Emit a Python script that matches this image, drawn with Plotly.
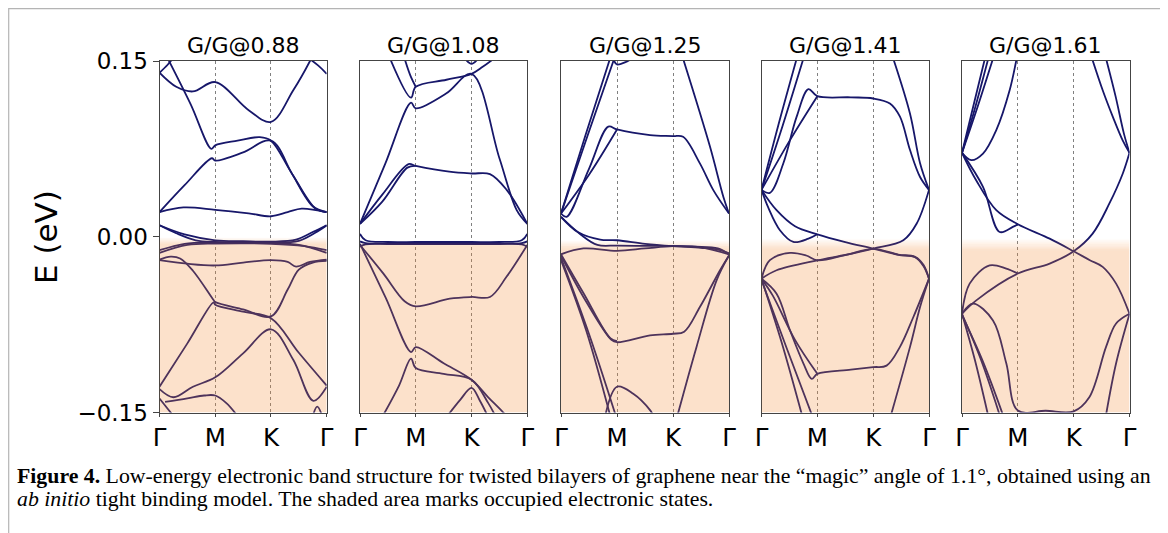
import plotly.graph_objects as go

# ---------------- data ----------------
angles = ["0.88", "1.08", "1.25", "1.41", "1.61"]
k_ticks = [0, 1, 2, 3]
k_labels = ["Γ", "M", "K", "Γ"]
E_ticks = [-0.15, 0.0, 0.15]
E_labels = ["−0.15", "0.00", "0.15"]
# shaded (occupied) region: solid below fade_bottom, fading out up to fade_top
fade_top = [-0.0005, -0.0045, -0.003, -0.0015, -0.0015]
fade_bottom = [-0.006, -0.0075, -0.010, -0.010, -0.0115]

bands_088 = [
    ([0, 0.3, 0.6, 1.0, 1.6, 2.0, 2.4, 2.7, 2.8], [0.140, 0.128, 0.124, 0.132, 0.108, 0.098, 0.125, 0.150, 0.160]),
    ([0, 0.15, 0.3], [0.140, 0.147, 0.156]),
    ([2.66, 2.85, 3.0], [0.153, 0.146, 0.139]),
    ([0.15, 0.56, 0.93, 1.0, 1.4, 1.8, 2.0, 2.35, 2.75, 3.0], [0.152, 0.113, 0.075, 0.078, 0.082, 0.085, 0.082, 0.056, 0.026, 0.021]),
    ([0, 0.45, 0.94, 1.0, 1.5, 2.0, 2.4, 2.8, 3.0], [0.021, 0.044, 0.067, 0.065, 0.072, 0.082, 0.052, 0.024, 0.021]),
    ([0, 0.43, 1.0, 1.6, 2.0, 2.3, 2.55, 3.0], [0.021, 0.025, 0.023, 0.020, 0.0175, 0.021, 0.024, 0.021]),
    ([0, 0.45, 1.0, 1.5, 2.0, 2.45, 2.75, 3.0], [0.0098, 0.002, -0.003, -0.0038, -0.0042, -0.0025, 0.004, 0.0098]),
    ([0, 0.3, 0.65, 1.0, 2.0, 2.5, 2.85, 3.0], [0.0098, 0.003, -0.003, -0.0045, -0.005, -0.0035, 0.005, 0.0098]),
    ([0, 0.45, 1.0, 2.0, 2.5, 3.0], [-0.0115, -0.006, -0.005, -0.0055, -0.007, -0.0138]),
    ([0, 0.5, 1.0, 2.0, 2.6, 3.0], [-0.0138, -0.007, -0.0058, -0.006, -0.008, -0.0115]),
    ([0, 0.5, 1.0, 1.5, 2.0, 2.3, 2.45, 2.7, 3.0], [-0.020, -0.023, -0.0245, -0.022, -0.020, -0.0215, -0.0255, -0.0215, -0.0195]),
    ([0, 0.2, 0.37, 0.6, 0.97, 1.0, 1.5, 2.0, 2.3, 2.5, 2.75, 3.0], [-0.0195, -0.017, -0.0185, -0.029, -0.054, -0.0557, -0.062, -0.068, -0.045, -0.028, -0.022, -0.0205]),
    ([0, 0.5, 0.97, 1.0, 1.5, 2.0, 2.5, 3.0], [-0.128, -0.091, -0.056, -0.058, -0.064, -0.0695, -0.099, -0.127]),
    ([0, 0.25, 0.6, 1.0, 1.5, 2.0, 2.4, 2.76, 3.0], [-0.130, -0.137, -0.128, -0.120, -0.0995, -0.079, -0.105, -0.140, -0.128]),
    ([0.1, 0.5, 0.8, 1.0, 1.2, 1.4], [-0.141, -0.138, -0.1355, -0.1355, -0.142, -0.153]),
    ([0, 0.15, 0.3], [-0.138, -0.147, -0.156]),
    ([2.75, 2.83, 2.92], [-0.153, -0.145, -0.153]),
]

bands_108 = [
    ([1.9, 2.0, 2.1], [0.151, 0.1475, 0.151]),
    ([0.54, 0.915, 1.0, 1.55, 2.0, 2.2, 2.4], [0.152, 0.1187, 0.128, 0.134, 0.139, 0.145, 0.152]),
    ([0.8, 0.9, 1.0], [0.152, 0.138, 0.128]),
    ([0, 0.45, 0.915, 1.0, 1.55, 2.0, 2.5, 2.81, 3.0], [0.011, 0.062, 0.1144, 0.1096, 0.1224, 0.139, 0.067, 0.0227, 0.011]),
    ([0, 0.4, 0.87, 1.0, 1.6, 2.0, 2.33, 2.63, 3.0], [0.011, 0.036, 0.062, 0.0605, 0.0555, 0.054, 0.0535, 0.040, 0.011]),
    ([0, 0.4, 0.85, 1.0], [0.011, 0.030, 0.059, 0.0605]),
    ([0, 0.1, 0.5, 1.0, 1.5, 2.0, 2.5, 2.9, 3.0], [0.0025, -0.003, -0.0045, -0.0045, -0.0045, -0.0045, -0.0045, -0.003, 0.0025]),
    ([0, 0.1, 0.5, 1.0, 1.5, 2.0, 2.5, 2.9, 3.0], [-0.004, -0.0055, -0.0058, -0.0058, -0.0058, -0.0058, -0.0058, -0.0055, -0.004]),
    ([0, 0.1, 0.5, 1.0, 1.5, 2.0, 2.5, 2.9, 3.0], [-0.0085, -0.0065, -0.0062, -0.0062, -0.0062, -0.0062, -0.0062, -0.0065, -0.0085]),
    ([0, 0.42, 0.8, 1.0, 1.61, 2.0, 2.33, 2.63, 3.0], [-0.007, -0.0315, -0.055, -0.0594, -0.0528, -0.0514, -0.0514, -0.034, -0.007]),
    ([0, 0.46, 0.915, 1.0, 1.5, 2.0, 2.3, 2.57, 2.7], [-0.006, -0.052, -0.0984, -0.0942, -0.108, -0.122, -0.137, -0.150, -0.157]),
    ([0.42, 0.7, 0.915, 1.0, 1.5, 2.0, 2.3, 2.45], [-0.152, -0.127, -0.104, -0.112, -0.117, -0.122, -0.142, -0.155]),
    ([1.55, 1.8, 2.0, 2.15, 2.3], [-0.154, -0.139, -0.129, -0.140, -0.154]),
]

bands_125 = [
    ([0, 0.44, 0.875], [0.0198, 0.087, 0.152]),
    ([0, 0.48, 0.95], [0.0198, 0.087, 0.152]),
    ([0.95, 1.0, 1.15, 1.3], [0.150, 0.147, 0.149, 0.153]),
    ([0, 0.1, 0.5, 0.845, 1.0, 1.59, 2.0, 2.18, 2.48, 2.72, 3.0], [0.0198, 0.017, 0.058, 0.094, 0.0916, 0.0868, 0.0859, 0.0853, 0.0626, 0.0398, 0.0198]),
    ([0, 0.5, 1.0], [0.0198, 0.053, 0.0916]),
    ([2.18, 2.66, 2.9, 3.0], [0.152, 0.077, 0.034, 0.0198]),
    ([0, 0.3, 0.7, 1.0, 1.5, 2.0, 2.5, 2.8, 3.0], [0.017, 0.004, -0.0025, -0.003, -0.006, -0.008, -0.0095, -0.011, -0.014]),
    ([0, 0.35, 0.65, 1.0, 1.5, 2.0, 2.5, 3.0], [0.017, 0.002, -0.007, -0.0075, -0.0078, -0.008, -0.009, -0.015]),
    ([0, 0.4, 1.0, 1.5, 2.0, 2.4, 2.8, 3.0], [-0.015, -0.010, -0.012, -0.010, -0.008, -0.0085, -0.010, -0.015]),
    ([0, 0.4, 0.9, 1.0, 1.59, 2.0, 2.2, 2.48, 2.84, 3.0], [-0.016, -0.0514, -0.088, -0.090, -0.0842, -0.0828, -0.081, -0.060, -0.0286, -0.016]),
    ([0, 0.4, 0.88, 1.0], [-0.015, -0.048, -0.0865, -0.089]),
    ([0, 0.5, 0.98], [-0.018, -0.083, -0.153]),
    ([0, 0.45, 0.88], [-0.020, -0.080, -0.153]),
    ([0.78, 1.0, 1.29, 1.59, 1.65], [-0.155, -0.128, -0.134, -0.148, -0.153]),
    ([2.06, 2.42, 2.78, 3.0], [-0.156, -0.094, -0.037, -0.016]),
]

bands_141 = [
    ([0, 0.3, 0.63], [0.040, 0.095, 0.152]),
    ([0, 0.38, 0.75], [0.040, 0.095, 0.152]),
    ([0, 0.15, 0.39, 0.63, 0.84, 1.0, 1.6, 2.0, 2.3, 2.48, 2.66, 2.84, 3.0], [0.040, 0.0375, 0.0625, 0.1025, 0.126, 0.120, 0.119, 0.118, 0.1138, 0.1025, 0.074, 0.051, 0.040]),
    ([0, 0.51, 1.0], [0.040, 0.0825, 0.120]),
    ([2.36, 2.66, 2.84, 3.0], [0.152, 0.105, 0.0627, 0.040]),
    ([0, 0.27, 0.6, 1.0, 1.5, 2.0, 2.45, 2.75, 2.9, 3.0], [0.040, 0.0227, 0.009, 0.0021, -0.0045, -0.0101, -0.0155, -0.0175, -0.025, -0.0358]),
    ([0, 0.12, 0.33, 0.57, 0.84, 1.0], [0.040, 0.025, 0.0056, -0.0044, -0.0016, 0.0021]),
    ([0, 0.27, 1.0, 1.5, 2.0, 2.54, 2.78, 3.0], [-0.0358, -0.0286, -0.0201, -0.0155, -0.0101, -0.003, 0.0113, 0.040]),
    ([0, 0.15, 0.51, 0.8, 1.0, 1.5, 2.0, 2.45, 2.75, 2.9, 3.0], [-0.0358, -0.020, -0.0138, -0.016, -0.0201, -0.0157, -0.0103, -0.0152, -0.0172, -0.024, -0.0358]),
    ([0, 0.27, 0.51, 0.75, 0.9, 1.0, 1.6, 2.0, 2.24, 2.48, 2.72, 3.0], [-0.0358, -0.0486, -0.0798, -0.108, -0.1213, -0.117, -0.1135, -0.1113, -0.110, -0.094, -0.0685, -0.0358]),
    ([0, 0.2, 0.6, 1.0], [-0.0358, -0.050, -0.088, -0.117]),
    ([0, 0.36, 0.73], [-0.0358, -0.090, -0.153]),
    ([0, 0.45, 0.91], [-0.037, -0.095, -0.153]),
    ([2.32, 2.66, 2.84, 3.0], [-0.152, -0.094, -0.060, -0.0358]),
]

bands_161 = [
    ([0, 0.2, 0.41], [0.0716, 0.111, 0.152]),
    ([0, 0.24, 0.47], [0.0716, 0.111, 0.152]),
    ([0, 0.28, 0.555], [0.0716, 0.111, 0.152]),
    ([0, 0.167, 0.376, 0.614, 0.853, 0.97, 1.05], [0.0716, 0.0654, 0.071, 0.091, 0.125, 0.150, 0.170]),
    ([2.58, 2.75, 2.9, 3.0], [0.152, 0.120, 0.088, 0.0716]),
    ([2.33, 2.52, 2.7, 2.88, 3.0], [0.152, 0.125, 0.1025, 0.082, 0.0716]),
    ([0, 0.256, 0.614, 1.0, 1.57, 2.0, 2.29, 2.52, 2.76, 3.0], [0.0716, 0.048, 0.0227, 0.0107, -0.0016, -0.0124, -0.020, -0.0257, -0.040, -0.0657]),
    ([0, 0.376, 0.674, 0.91, 1.0], [0.0716, 0.0426, 0.0041, 0.0084, 0.0107]),
    ([0, 0.256, 1.0, 1.57, 2.0, 2.34, 2.64, 2.88, 3.0], [-0.0657, -0.0543, -0.0314, -0.0229, -0.0124, 0.0027, 0.0284, 0.054, 0.0716]),
    ([0, 0.137, 0.495, 0.793, 1.0], [-0.0657, -0.040, -0.0244, -0.0272, -0.0314]),
    ([0, 0.197, 0.555, 0.793, 1.0, 1.5, 2.0, 2.28, 2.58, 2.76, 3.0], [-0.0657, -0.0571, -0.0714, -0.108, -0.1483, -0.1485, -0.149, -0.137, -0.094, -0.074, -0.0657]),
    ([2.58, 2.76, 3.0], [-0.152, -0.108, -0.066]),
    ([0, 0.23, 0.47], [-0.0657, -0.105, -0.153]),
    ([0, 0.34, 0.68], [-0.066, -0.105, -0.153]),
    ([0, 0.37, 0.74], [-0.067, -0.106, -0.153]),
]

all_bands = [bands_088, bands_108, bands_125, bands_141, bands_161]

caption_line1 = ("<b>Figure 4.</b> Low-energy electronic band structure for twisted bilayers of graphene "
                 "near the “magic” angle of 1.1°, obtained using an")
caption_line2 = "<i>ab initio</i> tight binding model. The shaded area marks occupied electronic states."

# ---------------- layout constants (page pixels) ----------------
PAGE_OFF = 8            # browser body margin
W, H = 1168 - PAGE_OFF, 533 - PAGE_OFF


def fx(px):
    return (px - PAGE_OFF) / W


def fy(py):
    return 1 - (py - PAGE_OFF) / H


panel_left = [159.5, 360.0, 561.0, 761.5, 962.0]
panel_right = [326.7, 527.3, 729.0, 929.0, 1129.5]
top_px, bottom_px = 61.0, 412.5
NAVY = "#17176a"
FILL_RGB = "243,135,47"
FILL_ALPHA = 0.25
AXIS_COLOR = "#444444"
FONT = "DejaVu Sans"

fig = go.Figure()
layout = dict(
    width=W, height=H,
    margin=dict(l=0, r=0, t=0, b=0, pad=0, autoexpand=False),
    paper_bgcolor="white", plot_bgcolor="white",
    showlegend=False,
    font=dict(family=FONT, color="black"),
)
shapes = []
annotations = []

yd = [fy(bottom_px), fy(top_px)]
for i, bands in enumerate(all_bands):
    n = i + 1
    xa = "x" if n == 1 else f"x{n}"
    ya = "y" if n == 1 else f"y{n}"
    for k, E in bands:
        fig.add_trace(go.Scatter(
            x=k, y=E, mode="lines", xaxis=xa, yaxis=ya,
            line=dict(color=NAVY, width=1.8, shape="spline", smoothing=1.0),
            hoverinfo="skip", showlegend=False,
        ))
    layout["xaxis" if n == 1 else f"xaxis{n}"] = dict(
        domain=[fx(panel_left[i]), fx(panel_right[i])], anchor=ya,
        range=[0, 3], tickmode="array", tickvals=k_ticks, ticktext=k_labels,
        ticks="outside", ticklen=3, tickcolor=AXIS_COLOR,
        tickfont=dict(size=24.5, family=FONT, color="black"),
        showline=True, mirror=True, linecolor=AXIS_COLOR, linewidth=1,
        showgrid=True, gridcolor="#808080", griddash="dot", gridwidth=0.8,
        zeroline=False, fixedrange=True, automargin=False,
    )
    ydict = dict(
        domain=yd, anchor=xa, range=[-0.15, 0.15],
        showline=True, mirror=True, linecolor=AXIS_COLOR, linewidth=1,
        showgrid=False, zeroline=False, fixedrange=True, automargin=False,
    )
    if n == 1:
        ydict.update(tickmode="array", tickvals=E_ticks, ticktext=E_labels,
                     ticks="outside", ticklen=6, tickcolor=AXIS_COLOR,
                     tickfont=dict(size=23, family=FONT, color="black"))
    else:
        ydict.update(showticklabels=False, ticks="")
    layout["yaxis" if n == 1 else f"yaxis{n}"] = ydict

    # occupied-states shading
    shapes.append(dict(type="rect", xref=xa, yref=ya, x0=0, x1=3,
                       y0=-0.15, y1=fade_bottom[i], layer="above",
                       fillcolor=f"rgba({FILL_RGB},{FILL_ALPHA})", line=dict(width=0)))
    nsteps = 10
    for s in range(nsteps):
        y0 = fade_bottom[i] + (fade_top[i] - fade_bottom[i]) * s / nsteps
        y1 = fade_bottom[i] + (fade_top[i] - fade_bottom[i]) * (s + 1) / nsteps
        a = FILL_ALPHA * (1 - (s + 0.5) / nsteps)
        shapes.append(dict(type="rect", xref=xa, yref=ya, x0=0, x1=3,
                           y0=y0, y1=y1, layer="above",
                           fillcolor=f"rgba({FILL_RGB},{a:.4f})", line=dict(width=0)))

    annotations.append(dict(
        text=f"G/G@{angles[i]}", xref="paper", yref="paper",
        x=fx((panel_left[i] + panel_right[i]) / 2), y=fy(45),
        xanchor="center", yanchor="middle", showarrow=False,
        font=dict(size=22, family=FONT, color="black"),
    ))

annotations.append(dict(
    text="E (eV)", xref="paper", yref="paper", x=fx(46), y=fy(237),
    xanchor="center", yanchor="middle", textangle=-90, showarrow=False,
    font=dict(size=31, family=FONT, color="black"),
))
annotations.append(dict(
    text=caption_line1, xref="paper", yref="paper", x=fx(15), y=fy(476),
    xanchor="left", yanchor="middle", showarrow=False, align="left",
    font=dict(size=21.8, family="Liberation Serif", color="black"),
))
annotations.append(dict(
    text=caption_line2, xref="paper", yref="paper", x=fx(15), y=fy(499),
    xanchor="left", yanchor="middle", showarrow=False, align="left",
    font=dict(size=21.8, family="Liberation Serif", color="black"),
))

# light figure frame
shapes.append(dict(type="rect", xref="paper", yref="paper",
                   x0=fx(8.7), x1=fx(1162.5), y0=-0.05, y1=fy(8.7),
                   line=dict(color="#b4b4b4", width=1.2), fillcolor="rgba(0,0,0,0)",
                   layer="below"))

layout["shapes"] = shapes
layout["annotations"] = annotations
fig.update_layout(**layout)
fig.write_html("out.html")
